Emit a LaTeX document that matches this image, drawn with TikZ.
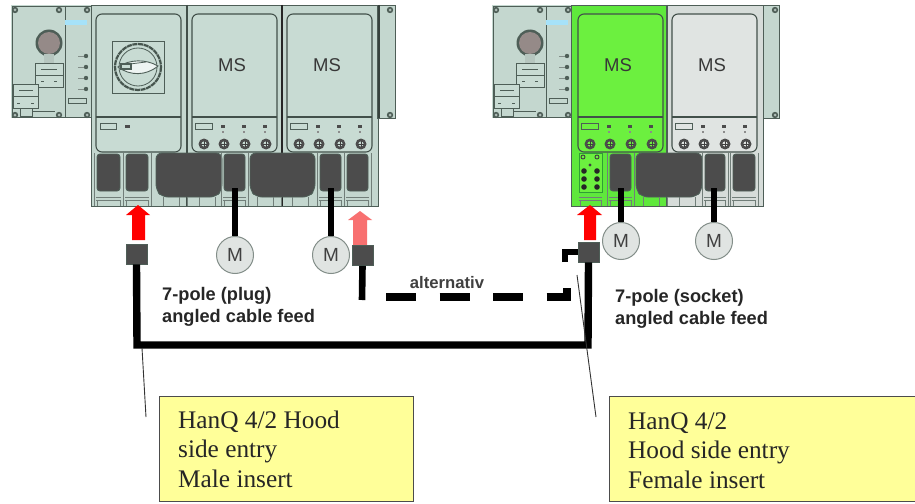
\documentclass[tikz,border=0pt]{standalone}
\usepackage{fontspec}
\setmainfont{Liberation Serif}
\newfontfamily\lsans{Liberation Sans}
\definecolor{mint}{HTML}{C4D7CF}
\definecolor{mintc}{HTML}{C8DBD3}
\definecolor{pale}{HTML}{D6DCD9}
\definecolor{palec}{HTML}{E0E4E2}
\definecolor{grn}{HTML}{5FE83C}
\definecolor{grnc}{HTML}{6CF03F}
\definecolor{edge}{HTML}{4E5E57}
\definecolor{plugc}{HTML}{4C4C4C}
\definecolor{note}{HTML}{FFFF99}
\definecolor{pinkish}{HTML}{F87070}
\definecolor{knob}{HTML}{958A88}
\tikzset{
  part/.style={draw=edge,line width=0.9pt},
  dark/.style={draw=edge,fill=plugc,line width=0.9pt,rounded corners=3pt},
  cable/.style={draw=black,line width=7.4pt},
  thincable/.style={draw=black,line width=6.6pt},
  plug/.style={draw=edge,fill=plugc,line width=0.7pt,minimum width=21pt,minimum height=20pt,inner sep=0pt},
  motor/.style={circle,draw=edge!70,fill=palec,line width=1pt,minimum size=37pt,inner sep=0pt,font=\lsans\fontsize{19}{19}\selectfont,text=black!75},
  boldlabel/.style={font=\lsans\bfseries\fontsize{18.2}{22}\selectfont,text=black!85,anchor=base west,inner sep=0pt},
  notebox/.style={draw=black!70,fill=note,line width=1pt,anchor=north west,minimum height=105pt,inner sep=0pt},
  notetext/.style={font=\fontsize{25.3}{29.7}\selectfont,text=black!85,anchor=base west,inner sep=0pt},
  leader/.style={draw=black!80,line width=0.9pt},
  mslabel/.style={font=\lsans\fontsize{18.5}{18}\selectfont,text=black!78,inner sep=0pt}
}
% small screw
\newcommand{\scw}[2]{\fill[edge] (#1,#2) circle (3.2); \fill[mint!70!gray] (#1,#2) circle (1.5);}
% head panel, offset #1
\newcommand{\headpanel}[1]{\begin{scope}[xshift=#1 pt]
  \fill[mint] (11,5) rectangle (91,118);
  \draw[part] (12,6) rectangle (91,117);
  \draw[part] (65,6) -- (65,117);
  \fill[edge] (49,43) circle (13.5);
  \fill[knob] (49,43) circle (11);
  \fill[mint!80!gray] (44,54) rectangle (54,63);
  \draw[part,fill=mintc] (35,63) rectangle (63,87);
  \draw[part] (35,75) -- (63,75);
  \draw[edge] (41,69) -- (57,69) (41,81) -- (44,81) (54,81) -- (57,81);
  \draw[part,fill=mintc] (13,84) rectangle (38,108);
  \draw[part] (13,96) -- (38,96);
  \draw[edge] (19,90) -- (33,90) (17,103) -- (20,103) (31,103) -- (34,103);
  \draw[part] (20,108) rectangle (32,116);
  \draw[part] (32,111) -- (55,111);
  \fill[cyan!35] (65,20) rectangle (87,25);
  \foreach \yy in {56,67,78,89} {\fill[edge] (86,\yy) circle (2.2); \draw[edge!70,line width=0.4pt] (78,\yy) -- (84,\yy);}
  \draw[part,line width=1pt] (68,98) rectangle (86,103);
  \scw{15}{10}\scw{59}{10}\scw{87}{10}\scw{15}{115}\scw{59}{115}\scw{87}{115}
\end{scope}}
% cover outline: #1 bay x, #2 cover colour
\newcommand{\cover}[2]{
  \draw[edge!85!black,line width=1.1pt,fill=#2,rounded corners=6pt] (#1+5,14) rectangle (#1+90,152);
  \draw[edge!85!black,line width=1.1pt] (#1+5,117) -- (#1+90,117);
}
% motor-starter details
\newcommand{\msbay}[2]{
  \cover{#1}{#2}
  \node[mslabel] at (#1+45,65) {MS};
  \draw[part,line width=1pt,fill=#2] (#1+8,123) rectangle (#1+25,129);
  \foreach \dd in {36,57,78} {\fill[black!70] (#1+\dd-2,125) rectangle (#1+\dd+2,127.5); \fill[black!45] (#1+\dd-1,131) rectangle (#1+\dd+1,133);}
  \foreach \dd in {17,37,58,79} {\fill[black!70] (#1+\dd,144) circle (5.5); \fill[#2] (#1+\dd,144) circle (2.6); \draw[black!75,line width=0.9pt] (#1+\dd-3,144) -- (#1+\dd+3,144) (#1+\dd,141) -- (#1+\dd,147);}
}
% single socket with latch below
\newcommand{\latch}[2]{
  \draw[edge!80,line width=0.7pt] (#1,197) -- (#2,197) (#1,200) -- (#2,200) (#1+1,200) -- (#1+1,206) (#2-1,200) -- (#2-1,206);
}
\newcommand{\socket}[2]{
  \draw[dark] (#1,154) rectangle (#2,191);
  \latch{#1-1}{#2+1}
  \draw[edge!80,line width=0.7pt] (#1-3,153) -- (#1-3,206) (#2+3,153) -- (#2+3,206);
}
\newcommand{\bigsocket}[2]{
  \draw[dark,rounded corners=6pt] (#1,153) -- (#2,153) -- (#2,190) -- (#2-6,197) -- (#1+6,197) -- (#1,190) -- cycle;
  \draw[edge!80,line width=0.7pt] (#1+23,197) -- (#1+23,206) (#1+31,197) -- (#1+31,206) (#2-23,197) -- (#2-23,206) (#2-7,197) -- (#2-7,206) (#1+7,197) -- (#1+7,206);
}
\begin{document}
\begin{tikzpicture}[x=1pt,y=-1pt]
\useasboundingbox (0,0) rectangle (915,503);
\clip (0,0) rectangle (915,503);
\fill[white] (0,0) rectangle (915,503);
% ---------- left assembly
\headpanel{0}
\fill[mint] (91,5) rectangle (378,206);
\draw[part] (91,5) rectangle (378,206);
\fill[mint] (377,5) rectangle (395,118);
\draw[part] (377,5) rectangle (395,118);
\draw[edge!70!black,line width=1.2pt] (379,5) -- (379,118);
\scw{390}{10}\scw{390}{115}
\draw[edge!85!black,line width=1.2pt] (187,5) -- (187,206);
\draw[black!85,line width=1.4pt] (282,5) -- (282,206);
\cover{91}{mintc}
\draw[part,line width=1pt,fill=mintc] (100,123) rectangle (116,129);
\fill[black!70] (125,125) rectangle (130,127.5);
\draw[part,line width=1pt] (112,42) rectangle (164,93);
\draw[edge!90!black,line width=2.2pt,dash pattern=on 5pt off 0.7pt] (138,67) circle (23);
\draw[edge,line width=0.8pt] (138,67) circle (19);
\draw[edge,line width=0.9pt,fill=white!70!mintc] (118,67) .. controls (130,59) and (146,59) .. (158,66) .. controls (146,76) and (130,76) .. (118,67) -- cycle;
\fill[edge] (120,63) rectangle (132,70);
\fill[mintc] (122,65) rectangle (130,68);
\draw[edge,line width=0.8pt] (130,64) -- (146,62);
\msbay{187}{mintc}
\msbay{282}{mintc}
\socket{97}{120}
\socket{126}{148}
\bigsocket{156}{222}
\socket{224}{245}
\bigsocket{250}{315}
\socket{320}{341}
\socket{347}{368}
% ---------- right assembly
\headpanel{481}
\fill[pale] (571,5) rectangle (763,206);
\fill[grn] (571,5) rectangle (667,206);
\fill[mint] (763,5) rectangle (779,118);
\draw[part] (571,5) rectangle (763,206);
\draw[part] (763,5) rectangle (779,118);
\scw{775}{10}\scw{775}{115}
\draw[edge,line width=1.1pt] (667,5) -- (667,206);
\msbay{573}{grnc}
\msbay{667}{palec}
\draw[edge!60!green,line width=0.7pt,fill=grnc] (579,153) rectangle (602,192);
\foreach \xx/\yy in {584/171,597/171,584/179,597/179,584/187,597/187} {\fill[black!85] (\xx,\yy) circle (2.8);}
\foreach \xx/\yy in {583/157,597/157} {\draw[black!75,line width=0.9pt] (\xx,\yy) circle (2);}
\fill[black!75] (590,165) circle (1.6);
\latch{579}{602}
\socket{610}{631}
\bigsocket{636}{702}
\socket{705}{725}
\socket{733}{755}
% ---------- arrows
\fill[red] (126,215) -- (138,205) -- (150,215) -- (145,215) -- (145,240) -- (132,240) -- (132,215) -- cycle;
\fill[red] (577,215) -- (590,205) -- (602,215) -- (596,215) -- (596,240) -- (584,240) -- (584,215) -- cycle;
\fill[pinkish] (348,220) -- (360,211) -- (372,220) -- (367,220) -- (367,245) -- (353,245) -- (353,220) -- cycle;
% ---------- motors
\node[motor] (m1) at (235,255) {M};
\node[motor] (m2) at (331,255) {M};
\node[motor] (m3) at (621,241) {M};
\node[motor] (m4) at (714,241) {M};
\coordinate (c1) at (235,188);
\coordinate (c2) at (331,188);
\coordinate (c3) at (621,188);
\coordinate (c4) at (714,188);
\draw[thincable] (c1) -- (m1.north);
\draw[thincable] (c2) -- (m2.north);
\draw[thincable] (c3) -- (m3.north);
\draw[thincable] (c4) -- (m4.north);
% ---------- plugs and cables
\node[plug] (pl) at (136.5,254) {};
\node[plug] (pr) at (588.5,252) {};
\node[plug] (pa) at (362.5,255.5) {};
\coordinate (bl) at (137,345);
\coordinate (br) at (588,345);
\draw[cable,line join=miter] (pl.south) -- (bl) -- (br) -- (pr.south);
\coordinate (ae) at (362,300);
\draw[thincable] (pa.south) -- (ae);
\coordinate (da) at (386,297);
\coordinate (db) at (567,297);
\coordinate (dc) at (567,285);
\draw[black,line width=7.4pt,dash pattern=on 30pt off 23.5pt,line join=miter] (da) -- (db) -- (dc);
\coordinate (ha) at (565,262);
\coordinate (hb) at (565,252);
\draw[black,line width=6.4pt,line join=miter] (ha) -- (hb) -- (pr.west |- hb);
% ---------- text
\node[font=\lsans\bfseries\fontsize{16.7}{16}\selectfont,text=black!75,inner sep=0pt] (alt) at (447,283) {alternativ};
\node[boldlabel] (t1) at (162,300) {\vtop{\hbox{7-pole (plug)}\hbox{angled cable feed}}};
\node[boldlabel] (t2) at (615,302) {\vtop{\hbox{7-pole (socket)}\hbox{angled cable feed}}};
% ---------- notes
\node[notebox,minimum width=254pt] (n1) at (159,396) {};
\node[notebox,minimum width=320pt] (n2) at (609,396) {};
\node[notetext] (n1t) at (178,428) {\vtop{\hbox{HanQ 4/2 Hood}\hbox{side entry}\hbox{Male insert}}};
\node[notetext] (n2t) at (628,429) {\vtop{\hbox{HanQ 4/2}\hbox{Hood side entry}\hbox{Female insert}}};
\coordinate (l1a) at (142,348);
\coordinate (l1b) at (146,417);
\coordinate (l2a) at (577,275);
\coordinate (l2b) at (596,417);
\draw[leader] (l1a) -- (l1b);
\draw[leader] (l2a) -- (l2b);
\end{tikzpicture}
\end{document}
